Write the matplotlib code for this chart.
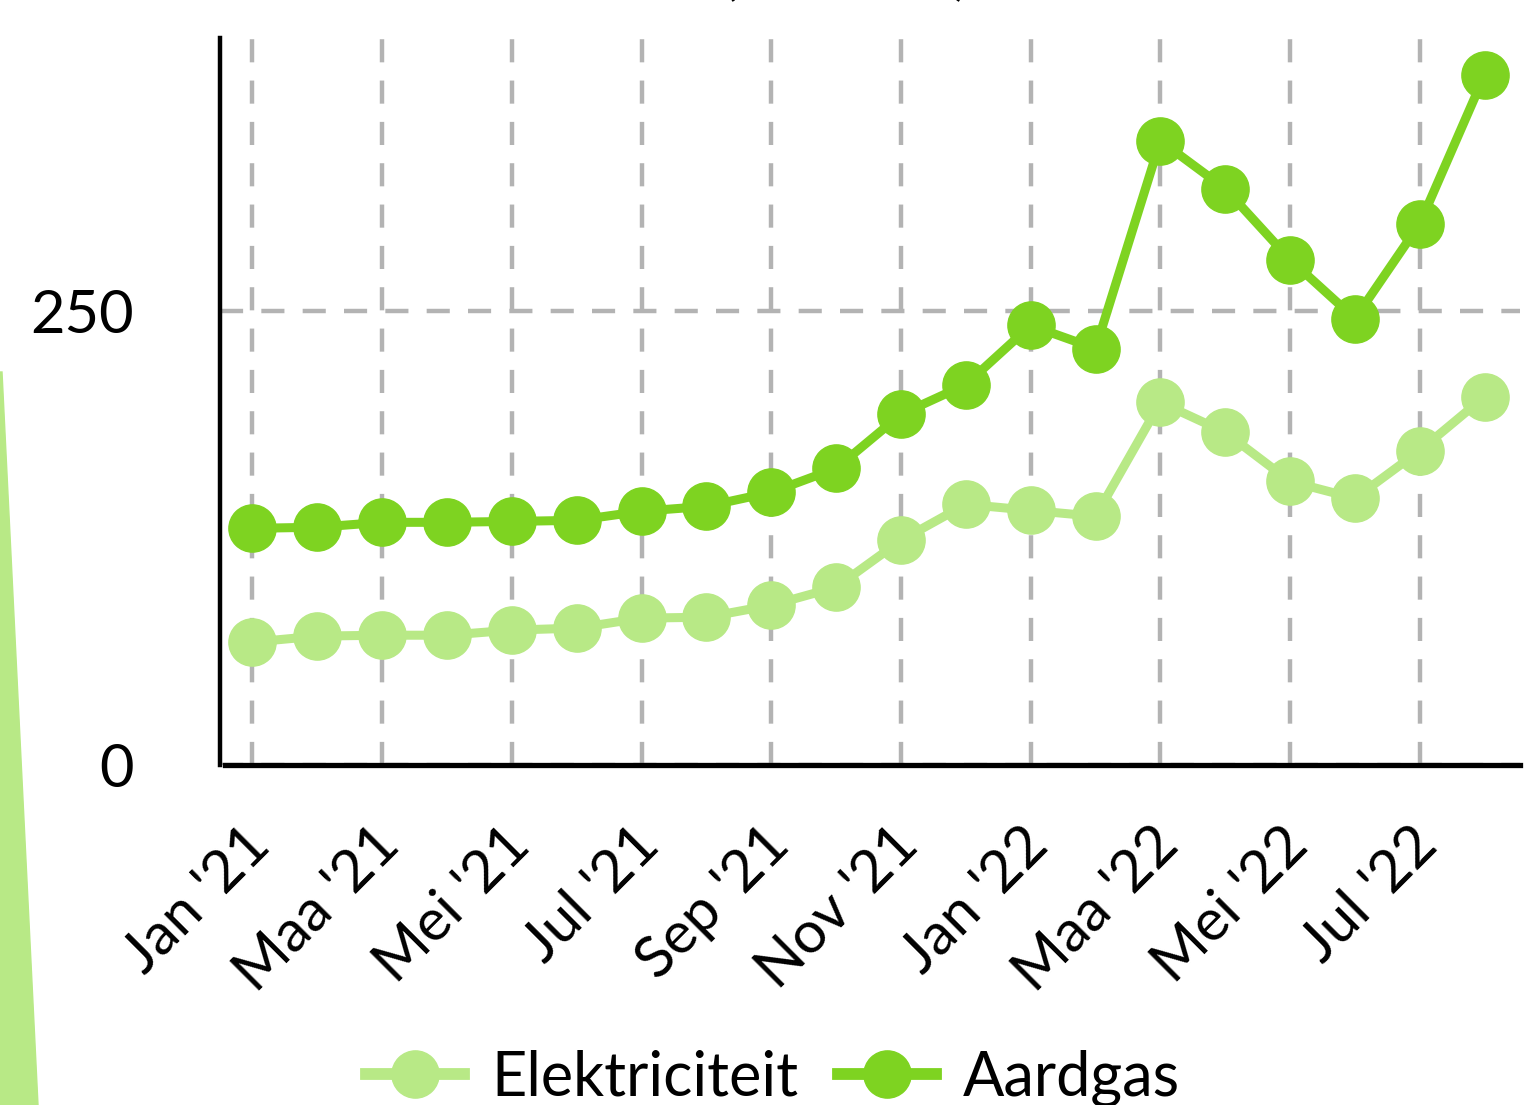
import matplotlib
matplotlib.use('Agg')
from matplotlib import pyplot as plt
from matplotlib.patches import Polygon
from matplotlib.transforms import ScaledTranslation

plt.rcParams['font.family'] = ['Lato', 'DejaVu Sans']

maanden = ["Jan '21", "Feb '21", "Maa '21", "Apr '21", "Mei '21", "Jun '21",
           "Jul '21", "Aug '21", "Sep '21", "Okt '21", "Nov '21", "Dec '21",
           "Jan '22", "Feb '22", "Maa '22", "Apr '22", "Mei '22", "Jun '22",
           "Jul '22", "Aug '22"]
elektriciteit = [67.6, 70.9, 71.4, 71.4, 74.2, 75.3, 80.8, 81.3, 87.9, 97.8,
                 123.6, 143.4, 140.1, 136.8, 199.5, 183.0, 156.0, 146.7, 173.0, 202.7]
aardgas = [130.2, 130.8, 133.5, 133.5, 134.0, 134.6, 139.6, 142.3, 150.0, 163.2,
           192.9, 209.3, 241.8, 229.1, 343.4, 317.0, 278.0, 245.6, 297.8, 379.7]
y_ticks = [0, 250]

kleur_elek = '#b8e986'
kleur_gas = '#7ed321'
grijs = '#b3b3b3'

fig = plt.figure(figsize=(15.28, 11.05), dpi=100)
ax = fig.add_axes([0.144, 0.3077, 0.851, 0.658])

x = list(range(len(maanden)))
ax.plot(x, elektriciteit, color=kleur_elek, lw=6.5, marker='o', ms=34,
        label='Elektriciteit', zorder=3, clip_on=False)
ax.plot(x, aardgas, color=kleur_gas, lw=6.5, marker='o', ms=34,
        label='Aardgas', zorder=4, clip_on=False)

ax.set_xlim(-0.5, 19.55)
ax.set_ylim(0, 400)
ax.set_yticks(y_ticks)
ax.set_yticklabels([str(v) for v in y_ticks], fontsize=43)
ax.set_xticks(x[::2])
ax.set_xticklabels(maanden[::2], fontsize=42, rotation=45, ha='right',
                   rotation_mode='anchor')
ax.tick_params(axis='y', length=0, pad=62)
ax.tick_params(axis='x', length=0, pad=38)
for lbl in ax.get_xticklabels():
    lbl.set_transform(lbl.get_transform() + ScaledTranslation(-0.1, 0, fig.dpi_scale_trans))

ax.grid(True, color=grijs, lw=3.2, dashes=(5.2, 4.1), zorder=1)

for s in ['top', 'right']:
    ax.spines[s].set_visible(False)
ax.spines['left'].set_linewidth(3.2)
ax.spines['bottom'].set_linewidth(3.8)
ax.spines['bottom'].set_bounds(-0.42, 19.55)

leg = fig.legend(loc='center', bbox_to_anchor=(0.506, 0.0244), ncol=2,
                 frameon=False, fontsize=44, handlelength=1.6, columnspacing=0.65,
                 handletextpad=0.45, markerscale=1.0)
for h in leg.legend_handles:
    h.set_linewidth(8.5)

# titel valt grotendeels buiten beeld
fig.text(0.5535, 1.0045, '(2015=100)', fontsize=34, ha='center', va='baseline')

# groene strook links
fig.patches.append(Polygon([(0, 1 - 372 / 1105), (2 / 1528, 1 - 372 / 1105),
                            (38 / 1528, 0), (0, 0)], closed=True,
                           transform=fig.transFigure, color=kleur_elek,
                           zorder=0))

plt.savefig('out.png', dpi=100)
